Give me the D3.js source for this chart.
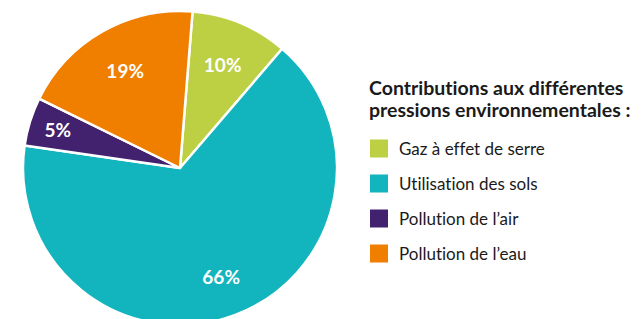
<!DOCTYPE html>
<html lang="fr">
  <head>
    <meta charset="utf-8">
    <style type="text/css">
      body {margin: 0; background-color: #fff;}
      #chart {width: 641px; height: 319px; overflow: hidden;}
      text {font-family: Lato, "Open Sans", sans-serif; font-variant-ligatures: none;}
    </style>
  </head>
  <body>
    <div id="chart">
      <svg width="641" height="319"></svg>
    </div>

    <script src="https://d3js.org/d3.v7.min.js"></script>
    <script type="text/javascript">
      // data
      var categories = ["Gaz à effet de serre", "Utilisation des sols", "Pollution de l\u2019air", "Pollution de l\u2019eau"];
      var values = [10, 66, 5, 19];
      var colors = ["#bdd043", "#12b4bd", "#42216e", "#f07f00"];
      var legendTitle = ["Contributions aux différentes", "pressions environnementales :"];

      var svg = d3.select("#chart svg");

      // pie geometry
      var cx = 180, cy = 168, radius = 157;
      var startOffset = 4.6 * Math.PI / 180;

      var pie = d3.pie().sort(null)
          .startAngle(startOffset)
          .endAngle(startOffset + 2 * Math.PI);
      var arcs = pie(values);

      var arc = d3.arc().innerRadius(0).outerRadius(radius);

      var g = svg.append("g").attr("transform", "translate(" + cx + "," + cy + ")");

      g.selectAll("path").data(arcs)
        .enter().append("path")
          .attr("d", arc)
          .style("fill", function(d, i) { return colors[i]; })
          .style("stroke", "#fff")
          .style("stroke-width", 2.5)
          .style("stroke-linejoin", "round");

      // labels sit further out on thin slices
      g.selectAll("text.pct").data(arcs)
        .enter().append("text")
          .attr("class", "pct")
          .attr("transform", function(d) {
            var r = d.data < 8 ? 128 : (d.data > 50 ? 117 : 111);
            var a = (d.startAngle + d.endAngle) / 2;
            return "translate(" + (Math.sin(a) * r) + "," + (-Math.cos(a) * r) + ")";
          })
          .attr("dy", "0.36em")
          .style("text-anchor", "middle")
          .style("fill", "#fff")
          .style("font-size", "19px")
          .style("font-weight", "bold")
          .text(function(d) { return d.data + "%"; });

      // legend
      var legend = svg.append("g").attr("transform", "translate(369,0)");

      legend.selectAll("text.title").data(legendTitle)
        .enter().append("text")
          .attr("class", "title")
          .attr("x", 0)
          .attr("y", function(d, i) { return 95 + i * 22; })
          .style("font-size", "19.5px")
          .style("font-weight", "bold")
          .style("fill", "#1a1a1a")
          .text(function(d) { return d; });

      var y = d3.scaleBand().domain(categories).range([131, 271]);

      var item = legend.selectAll("g.item").data(categories)
        .enter().append("g")
          .attr("class", "item")
          .attr("transform", function(d) { return "translate(0," + y(d) + ")"; });

      item.append("rect")
          .attr("x", 1)
          .attr("y", y.bandwidth() / 2 - 9)
          .attr("width", 18)
          .attr("height", 18)
          .style("fill", function(d, i) { return colors[i]; });

      item.append("text")
          .attr("x", 30)
          .attr("y", y.bandwidth() / 2)
          .attr("dy", "0.36em")
          .style("font-size", "17px")
          .style("fill", "#1a1a1a")
          .text(function(d) { return d; });
    </script>
  </body>
</html>
